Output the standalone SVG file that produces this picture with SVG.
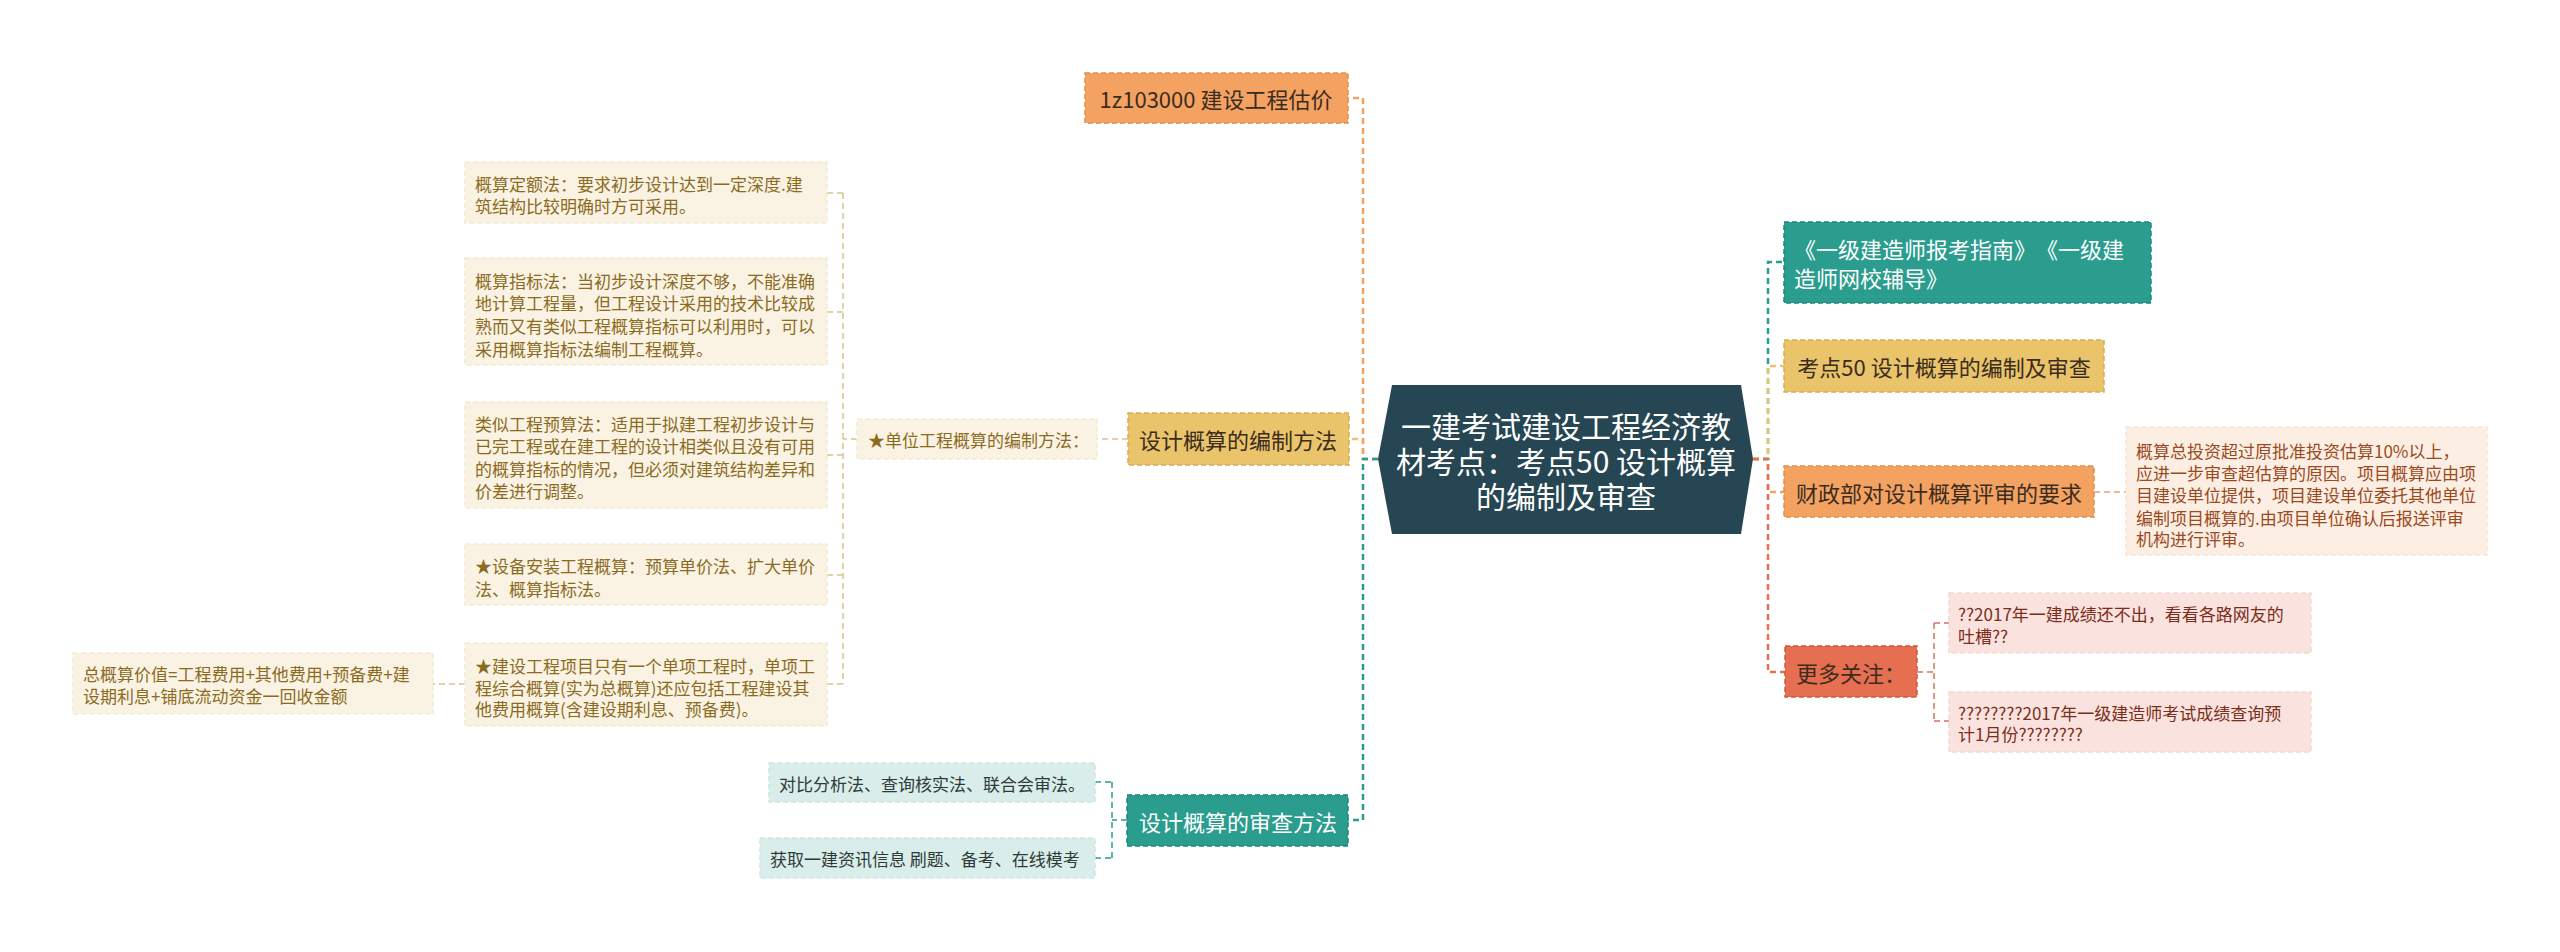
<svg xmlns="http://www.w3.org/2000/svg" width="2560" height="952" viewBox="0 0 2560 952">
<style>
text{font-family:"Noto Sans CJK SC","Noto Sans",sans-serif;dominant-baseline:central}
.m{font-size:22px}
.l{font-size:17px}
.c{font-size:30px;fill:#ffffff;text-anchor:middle}
.mid{text-anchor:middle}
.dk{fill:#3b2c1e}
.wh{fill:#ffffff}
.bx{stroke-width:1.5;stroke-dasharray:5 3}
.or{fill:#F4A261;stroke:#e08e4c}
.go{fill:#E9C46A;stroke:#d4ad52}
.te{fill:#2A9D8F;stroke:#1f8578}
.re{fill:#E76F51;stroke:#d05a3c}
.lg{fill:#FAF3E3;stroke:#f4ead3}
.lt{fill:#D9EEEB;stroke:#cee8e4}
.lo{fill:#FDEEE3;stroke:#f9e5d8}
.lr{fill:#FAE3DE;stroke:#f5d8d1}
.tg{fill:#8B6B1F}
.tt{fill:#2f3a38}
.to{fill:#9a4a22}
.tr{fill:#7b2d1c}
.cn path{fill:none;stroke-dasharray:6 4}
.k1{stroke-width:2.5}
.k2{stroke-width:1.5}
</style>
<rect width="2560" height="952" fill="#ffffff"/>
<g class="cn" id="connectors">
<path class="k1" d="M1378 459H1363V439H1349" stroke="#E9C46A"/>
<path class="k1" d="M1378 459H1363V98H1348" stroke="#F4A261"/>
<path class="k1" d="M1378 459H1363V820H1348" stroke="#2A9D8F"/>
<path class="k1" d="M1753 459H1768V262H1784" stroke="#2A9D8F"/>
<path class="k1" d="M1753 459H1768V366H1784" stroke="#E9C46A"/>
<path class="k1" d="M1753 459H1768V492H1784" stroke="#F4A261"/>
<path class="k1" d="M1753 459H1768V672H1785" stroke="#E76F51"/>
<path class="k2" d="M1128 439H1097" stroke="#d9c38e"/>
<path class="k2" d="M857 439H843M843 193V684M827 193H843M827 312H843M827 455H843M827 575H843M827 684H843" stroke="#d9c38e"/>
<path class="k2" d="M465 684H433" stroke="#d9c38e"/>
<path class="k2" d="M1127 820H1112M1112 782V858M1095 782H1112M1095 858H1112" stroke="#2A9D8F"/>
<path class="k2" d="M2094 492H2126" stroke="#e8a07a"/>
<path class="k2" d="M1917 672H1934M1934 623V721M1934 623H1949M1934 721H1949" stroke="#d9735a"/>
</g>
<g id="center">
<polygon points="1378,459 1392,385 1741,385 1753,459 1741,534 1392,534" fill="#264653"/>
<text class="c" x="1566" y="425">一建考试建设工程经济教<tspan x="1566" dy="35">材考点：考点50 设计概算</tspan><tspan x="1566" dy="35">的编制及审查</tspan></text>
</g>
<g id="n-guji">
<rect class="bx or" x="1085" y="73" width="263" height="50"/>
<text class="m mid dk" x="1216" y="98">1z103000 建设工程估价</text>
</g>
<g id="n-bianzhi">
<rect class="bx go" x="1128" y="413" width="221" height="52"/>
<text class="m mid dk" x="1238" y="439">设计概算的编制方法</text>
</g>
<g id="n-danwei">
<rect class="bx lg" x="857" y="419" width="240" height="40"/>
<text class="l tg" x="868" y="439">★单位工程概算的编制方法：</text>
</g>
<g id="n-dinge">
<rect class="bx lg" x="465" y="162" width="362" height="61"/>
<text class="l tg" x="475" y="183">概算定额法：要求初步设计达到一定深度.建</text>
<text class="l tg" x="475" y="205">筑结构比较明确时方可采用。</text>
</g>
<g id="n-zhibiao">
<rect class="bx lg" x="465" y="258" width="362" height="107"/>
<text class="l tg" x="475" y="280">概算指标法：当初步设计深度不够，不能准确</text>
<text class="l tg" x="475" y="302">地计算工程量，但工程设计采用的技术比较成</text>
<text class="l tg" x="475" y="325">熟而又有类似工程概算指标可以利用时，可以</text>
<text class="l tg" x="475" y="348">采用概算指标法编制工程概算。</text>
</g>
<g id="n-leisi">
<rect class="bx lg" x="465" y="402" width="362" height="106"/>
<text class="l tg" x="475" y="423">类似工程预算法：适用于拟建工程初步设计与</text>
<text class="l tg" x="475" y="445">已完工程或在建工程的设计相类似且没有可用</text>
<text class="l tg" x="475" y="468">的概算指标的情况，但必须对建筑结构差异和</text>
<text class="l tg" x="475" y="490">价差进行调整。</text>
</g>
<g id="n-shebei">
<rect class="bx lg" x="465" y="544" width="362" height="61"/>
<text class="l tg" x="475" y="565">★设备安装工程概算：预算单价法、扩大单价</text>
<text class="l tg" x="475" y="588">法、概算指标法。</text>
</g>
<g id="n-xiangmu">
<rect class="bx lg" x="465" y="643" width="362" height="83"/>
<text class="l tg" x="475" y="665">★建设工程项目只有一个单项工程时，单项工</text>
<text class="l tg" x="475" y="687">程综合概算(实为总概算)还应包括工程建设其</text>
<text class="l tg" x="475" y="708">他费用概算(含建设期利息、预备费)。</text>
</g>
<g id="n-zonggaisuan">
<rect class="bx lg" x="73" y="653" width="360" height="61"/>
<text class="l tg" x="83" y="673">总概算价值=工程费用+其他费用+预备费+建</text>
<text class="l tg" x="83" y="695">设期利息+铺底流动资金一回收金额</text>
</g>
<g id="n-shencha">
<rect class="bx te" x="1127" y="795" width="221" height="51"/>
<text class="m mid wh" x="1238" y="821">设计概算的审查方法</text>
</g>
<g id="n-duibi">
<rect class="bx lt" x="769" y="763" width="326" height="39"/>
<text class="l tt" x="779" y="783">对比分析法、查询核实法、联合会审法。</text>
</g>
<g id="n-huoqu">
<rect class="bx lt" x="760" y="838" width="335" height="40"/>
<text class="l tt" x="770" y="858">获取一建资讯信息 刷题、备考、在线模考</text>
</g>
<g id="n-zhinan">
<rect class="bx te" x="1784" y="222" width="367" height="81"/>
<text class="m wh" x="1794" y="248">《一级建造师报考指南》<tspan x="2036">《一级建</tspan></text>
<text class="m wh" x="1794" y="277">造师网校辅导》</text>
</g>
<g id="n-kaodian">
<rect class="bx go" x="1784" y="340" width="320" height="52"/>
<text class="m mid dk" x="1944" y="366">考点50 设计概算的编制及审查</text>
</g>
<g id="n-caizheng">
<rect class="bx or" x="1784" y="466" width="310" height="51"/>
<text class="m mid dk" x="1939" y="492">财政部对设计概算评审的要求</text>
</g>
<g id="n-touzi">
<rect class="bx lo" x="2126" y="427" width="361" height="128"/>
<text class="l to" x="2136" y="450">概算总投资超过原批准投资估算10%以上，</text>
<text class="l to" x="2136" y="472">应进一步审查超估算的原因。项目概算应由项</text>
<text class="l to" x="2136" y="494">目建设单位提供，项目建设单位委托其他单位</text>
<text class="l to" x="2136" y="517">编制项目概算的.由项目单位确认后报送评审</text>
<text class="l to" x="2136" y="538">机构进行评审。</text>
</g>
<g id="n-gengduo">
<rect class="bx re" x="1785" y="646" width="132" height="51"/>
<text class="m mid dk" x="1851" y="672">更多关注：</text>
</g>
<g id="n-tucao">
<rect class="bx lr" x="1949" y="593" width="362" height="60"/>
<text class="l tr" x="1958" y="613">??2017年一建成绩还不出，看看各路网友的</text>
<text class="l tr" x="1958" y="635">吐槽??</text>
</g>
<g id="n-chaxun">
<rect class="bx lr" x="1949" y="692" width="362" height="60"/>
<text class="l tr" x="1958" y="712">????????2017年一级建造师考试成绩查询预</text>
<text class="l tr" x="1958" y="733">计1月份????????</text>
</g>
</svg>
